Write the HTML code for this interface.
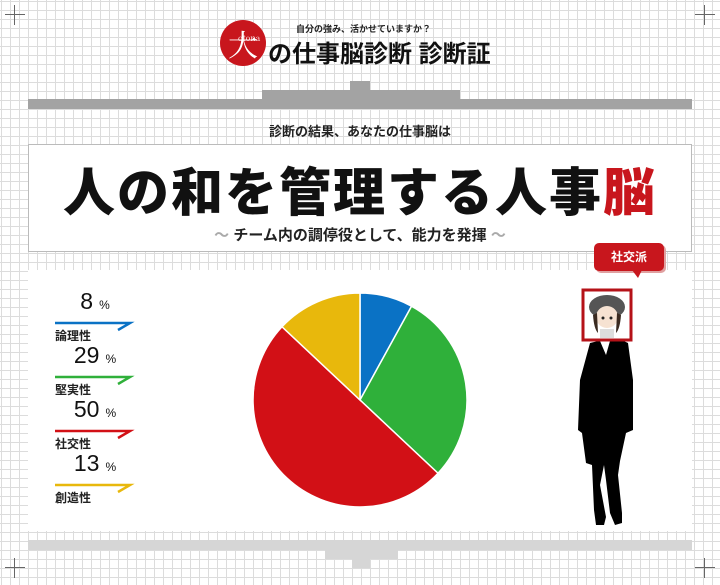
<!DOCTYPE html>
<html><head><meta charset="utf-8">
<style>
*{margin:0;padding:0;box-sizing:border-box}
body{width:720px;height:585px;position:relative;overflow:hidden;background:#fff;
font-family:"Liberation Sans","Noto Sans CJK JP",sans-serif;
background-image:linear-gradient(#dcdcdc 1px,transparent 1px),linear-gradient(90deg,#dcdcdc 1px,transparent 1px);
background-size:9px 9px;background-position:1px 1px}
.abs{position:absolute}
.gbar{position:absolute;background:#a3a3a3}
.lbar{position:absolute;background:#d6d6d6}
.cross{position:absolute;width:20px;height:20px}
.cross:before{content:"";position:absolute;left:9px;top:0;width:1px;height:20px;background:#666}
.cross:after{content:"";position:absolute;top:9px;left:0;height:1px;width:20px;background:#666}
.pct{position:absolute;left:55px;width:80px;font-size:23px;color:#111}
.pct span{font-size:12px;margin-left:6px}
.lab{position:absolute;left:55px;font-size:12px;font-weight:bold;color:#222}
</style></head><body>
<div class="cross" style="left:5px;top:5px"></div>
<div class="cross" style="left:695px;top:5px"></div>
<div class="cross" style="left:5px;top:558px"></div>
<div class="cross" style="left:695px;top:558px"></div>

<div class="abs" style="left:220px;top:20px;width:46px;height:46px;border-radius:50%;background:#c8161d;color:#fff;font-size:30px;font-family:'Noto Serif CJK SC',serif;text-align:center;line-height:46px">大<span style="position:absolute;left:18px;top:14px;font-size:8px;line-height:10px">otona</span></div>
<div class="abs" style="left:296px;top:22px;font-size:9px;font-weight:bold;color:#222">自分の強み、活かせていますか？</div>
<div class="abs" style="left:268px;top:34px;font-size:24px;font-weight:bold;color:#111">の仕事脳診断 診断証</div>

<div class="gbar" style="left:350px;top:81px;width:20px;height:10px"></div>
<div class="gbar" style="left:262px;top:90px;width:198px;height:10px"></div>
<div class="gbar" style="left:28px;top:99px;width:664px;height:10px"></div>

<div class="abs" style="left:0;width:720px;top:121px;text-align:center;font-size:13px;font-weight:bold;color:#222">診断の結果、あなたの仕事脳は</div>
<div class="abs" style="left:28px;top:144px;width:664px;height:108px;background:#fff;border:1px solid #bbb">
<div style="position:absolute;left:0;width:100%;top:6px;text-align:center;font-size:52px;font-weight:900;color:#111;letter-spacing:2px">人の和を管理する人事<span style="color:#c8161d">脳</span></div>
<div style="position:absolute;left:0;width:100%;top:79px;text-align:center;font-size:15px;font-weight:bold;color:#222"><span style="color:#aaa">～</span> チーム内の調停役として、能力を発揮 <span style="color:#aaa">～</span></div>
</div>

<div class="abs" style="left:28px;top:270px;width:664px;height:261px;background:#fff"></div>

<svg class="abs" style="left:0;top:0" width="720" height="585">
<g id="pie"></g><g id="legend"></g>
</svg>

<div class="abs" style="left:594px;top:243px;width:70px;height:28px;background:#c8161d;border-radius:5px;color:#fff;font-size:12px;font-weight:bold;text-align:center;line-height:28px;box-shadow:2px 2px 0 #e0a0a0">社交派
<div style="position:absolute;left:38px;top:27px;width:0;height:0;border-left:6px solid transparent;border-right:4px solid transparent;border-top:8px solid #c8161d"></div></div>

<svg class="abs" style="left:560px;top:285px" width="100" height="245">
<path d="M30 58 L55 52 L68 58 L73 95 L73 145 L66 148 L60 176 L58 190 L62 228 L62 238 L55 240 L50 228 L46 195 L44 180 L40 200 L46 232 L44 240 L36 240 L34 225 L32 180 L26 178 L22 148 L18 145 L20 95 Z" fill="#000"/>
<path d="M40 56 L46 70 L50 56 Z" fill="#fff"/>
<rect x="23" y="5" width="48" height="50" fill="#fff" stroke="#b51218" stroke-width="3"/>
<ellipse cx="47" cy="22" rx="18" ry="12" fill="#555"/>
<ellipse cx="47" cy="32" rx="11" ry="11" fill="#f6e2d2"/>
<path d="M33 30 Q34 44 38 48 L37 28 Z M61 30 Q60 44 56 48 L57 28 Z" fill="#3a2a20"/>
<circle cx="43" cy="33" r="1.5" fill="#222"/><circle cx="51" cy="33" r="1.5" fill="#222"/>
<rect x="40" y="44" width="14" height="9" fill="#ddd"/>
</svg>

<div class="lbar" style="left:28px;top:540px;width:664px;height:10px"></div>
<div class="lbar" style="left:325px;top:549px;width:73px;height:10px"></div>
<div class="lbar" style="left:352px;top:558px;width:18px;height:10px"></div>

<div id="labels"></div>

<script>
const categories=["論理性","堅実性","社交性","創造性"];
const values=[8,29,50,13];
const colors=["#0a72c5","#2fb03a","#d21016","#e8b80c"];
const NS="http://www.w3.org/2000/svg";
const cx=360,cy=400,r=107;
const total=values.reduce((a,b)=>a+b,0);
function pt(frac){const a=frac*2*Math.PI-Math.PI/2;return [cx+r*Math.cos(a),cy+r*Math.sin(a)];}
let acc=0;
const pie=document.getElementById('pie');
values.forEach((v,i)=>{
  const s=acc/total,e=(acc+v)/total;acc+=v;
  const [x1,y1]=pt(s),[x2,y2]=pt(e);
  const p=document.createElementNS(NS,'path');
  p.setAttribute('d',`M${cx} ${cy} L${x1} ${y1} A${r} ${r} 0 ${(e-s)>0.5?1:0} 1 ${x2} ${y2} Z`);
  p.setAttribute('fill',colors[i]);p.setAttribute('stroke','#fff');p.setAttribute('stroke-width','1.5');
  
  
  pie.appendChild(p);
});
const lg=document.getElementById('legend');
const lbl=document.getElementById('labels');
values.forEach((v,i)=>{
  const y0=290+i*54;
  const l=document.createElementNS(NS,'path');
  l.setAttribute('d',`M55 ${y0+33} L130 ${y0+33} L118 ${y0+40}`);
  l.setAttribute('stroke',colors[i]);l.setAttribute('stroke-width','2.5');l.setAttribute('fill','none');
  
  
  lg.appendChild(l);
  const d=document.createElement('div');d.className='pct';d.style.top=(y0-2)+'px';
  d.style.textAlign='center';
  d.innerHTML=v+'<span>%</span>';
  
  
  lbl.appendChild(d);
  const t=document.createElement('div');t.className='lab';t.style.top=(y0+37)+'px';
  t.textContent=categories[i];
  
  
  lbl.appendChild(t);
});
</script>
</body></html>
